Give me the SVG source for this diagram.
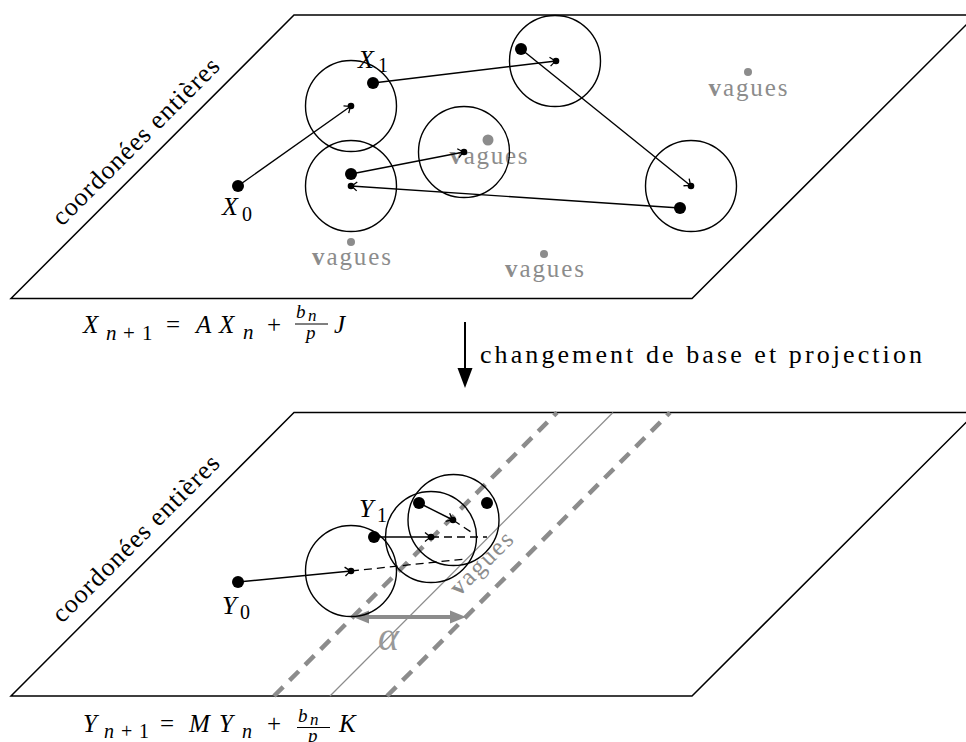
<svg xmlns="http://www.w3.org/2000/svg" width="966" height="742" viewBox="0 0 966 742">
<style>
.plane{fill:none;stroke:#000;stroke-width:1.5}
.circ{fill:none;stroke:#000;stroke-width:1.4}
.big{fill:#000}
.gdot{fill:#8c8c8c}
.edge{fill:none;stroke:#000;stroke-width:1.4;marker-end:url(#tip)}
.proj{fill:none;stroke:#000;stroke-width:1.3;stroke-dasharray:8 5}
.gthick{fill:none;stroke:#8c8c8c;stroke-width:4.5;stroke-dasharray:13 9}
.gthin{fill:none;stroke:#8c8c8c;stroke-width:1.2}
.lbl{font-family:"Liberation Serif","DejaVu Serif",serif;font-size:26px;fill:#000}
.gray{font-family:"Liberation Serif","DejaVu Serif",serif;font-size:25px;fill:#8c8c8c}
.math{font-family:"Liberation Serif","DejaVu Serif",serif;font-style:italic;fill:#000}
.rm{font-style:normal}
.b{font-weight:bold}
</style>
<defs>
<marker id="tip" markerUnits="userSpaceOnUse" markerWidth="14" markerHeight="14" viewBox="-8 -7 10 14" refX="0" refY="0" orient="auto">
<path d="M-6,-4.5 Q-2,-1 0,0 Q-2,1 -6,4.5" fill="none" stroke="#000" stroke-width="1.3"/>
</marker>
</defs>

<!-- top panel -->
<g id="plane-top">
<polygon class="plane" points="294,15 976,15 692,298.5 11,298.5"/>
<text class="lbl" transform="translate(62,227) rotate(-45)" textLength="225" lengthAdjust="spacing">coordonées entières</text>
</g>
<g id="waves-top">
<circle class="gdot" cx="748" cy="72" r="4"/>
<text class="gray" x="748" y="96" text-anchor="middle" textLength="79" lengthAdjust="spacing"><tspan class="b">v</tspan>agues</text>
<circle class="gdot" cx="351" cy="242" r="4"/>
<text class="gray" x="351.5" y="265" text-anchor="middle" textLength="79" lengthAdjust="spacing"><tspan class="b">v</tspan>agues</text>
<circle class="gdot" cx="544" cy="254" r="4"/>
<text class="gray" x="544.5" y="277" text-anchor="middle" textLength="79" lengthAdjust="spacing"><tspan class="b">v</tspan>agues</text>
<circle class="gdot" cx="488" cy="140" r="5.5"/>
<text class="gray" x="488.5" y="164" text-anchor="middle" textLength="78" lengthAdjust="spacing"><tspan class="b">v</tspan>agues</text>
</g>
<g id="c1"><circle class="circ" cx="351" cy="106" r="45.5"/><circle class="big" cx="351" cy="106" r="3.3"/></g>
<g id="c2"><circle class="circ" cx="351" cy="186" r="45.5"/><circle class="big" cx="351" cy="186" r="3.3"/><circle class="big" cx="351" cy="174" r="6"/></g>
<g id="c3"><circle class="circ" cx="464" cy="152" r="45.5"/><circle class="big" cx="464" cy="152" r="3.3"/></g>
<g id="c4"><circle class="circ" cx="555" cy="61" r="45.5"/><circle class="big" cx="556" cy="61" r="3.3"/><circle class="big" cx="521" cy="49" r="6"/></g>
<g id="c5"><circle class="circ" cx="691" cy="186" r="45.5"/><circle class="big" cx="691" cy="186" r="3.3"/><circle class="big" cx="680" cy="208" r="6"/></g>
<g id="X0"><circle class="big" cx="238" cy="186" r="6"/>
<text class="math" x="222" y="215" font-size="26">X</text><text class="math rm" x="242" y="221" font-size="20">0</text></g>
<g id="X1"><circle class="big" cx="373" cy="83" r="6"/>
<text class="math" x="358" y="68" font-size="26">X</text><text class="math rm" x="378" y="72" font-size="20">1</text></g>

<g id="formula-top">
<text class="math" font-size="25"><tspan x="83" y="333">X</tspan><tspan x="106" y="340" font-size="21">n</tspan><tspan class="rm" x="123" y="340" font-size="21">+</tspan><tspan class="rm" x="142" y="340" font-size="21">1</tspan><tspan class="rm" x="166" y="333">=</tspan><tspan x="196" y="333">A</tspan><tspan x="219" y="333">X</tspan><tspan x="243" y="339" font-size="21">n</tspan><tspan class="rm" x="267" y="333">+</tspan><tspan x="296" y="318" font-size="19">b</tspan><tspan x="308" y="321" font-size="17">n</tspan></text>
<text class="math" x="306" y="339" font-size="19">p</text>
<text class="math" x="334" y="333" font-size="25">J</text>
<line x1="295" y1="324" x2="328" y2="324" stroke="#000" stroke-width="1"/>
</g>

<g id="change">
<line x1="465" y1="322" x2="465" y2="372" stroke="#000" stroke-width="2"/>
<polygon points="457.5,368 472.5,368 465,388" fill="#000"/>
<text class="lbl" x="480" y="363" font-size="30" textLength="442" lengthAdjust="spacing">changement de base et projection</text>
</g>

<!-- bottom panel -->
<g id="plane-bottom">
<polygon class="plane" points="294,412.5 976,412.5 692,696 11,696"/>
<text class="lbl" transform="translate(62,624) rotate(-45)" textLength="225" lengthAdjust="spacing">coordonées entières</text>
</g>
<g id="waves-bottom">
<line class="gthick" x1="274" y1="696" x2="557" y2="412.5"/>
<line class="gthin" x1="330" y1="696" x2="613" y2="412.5"/>
<line class="gthick" x1="387" y1="696" x2="670" y2="412.5"/>
<text class="gray" transform="translate(487,569) rotate(-45)" text-anchor="middle" textLength="79" lengthAdjust="spacing"><tspan class="b">v</tspan>agues</text>
</g>
<g id="alpha">
<line x1="365" y1="617" x2="454" y2="617" stroke="#8c8c8c" stroke-width="4"/>
<polygon points="353,617 369,610.5 369,623.5" fill="#8c8c8c"/>
<polygon points="466,617 450,610.5 450,623.5" fill="#8c8c8c"/>
<text x="378" y="650" font-family="Liberation Serif, DejaVu Serif, serif" font-style="italic" font-size="40" fill="#999">α</text>
</g>
<g id="d1"><circle class="circ" cx="351" cy="571" r="45.5"/><circle class="big" cx="351" cy="571" r="3.3"/></g>
<g id="d2"><circle class="circ" cx="431" cy="537" r="45.5"/><circle class="big" cx="431" cy="537" r="3.3"/></g>
<g id="d3"><circle class="circ" cx="453.5" cy="520" r="45.5"/><circle class="big" cx="453" cy="520" r="3.3"/><circle class="big" cx="419" cy="503" r="6"/><circle class="big" cx="487" cy="503" r="6"/></g>
<g id="Y0"><circle class="big" cx="238" cy="582" r="6"/>
<text class="math" x="222" y="614" font-size="26">Y</text><text class="math rm" x="240" y="619" font-size="20">0</text></g>
<g id="Y1"><circle class="big" cx="374" cy="537" r="6"/>
<text class="math" x="359" y="517" font-size="26">Y</text><text class="math rm" x="377" y="522" font-size="20">1</text></g>

<g id="formula-bottom">
<text class="math" font-size="25"><tspan x="83" y="732">Y</tspan><tspan x="104" y="738" font-size="20">n</tspan><tspan class="rm" x="121" y="738" font-size="20">+</tspan><tspan class="rm" x="139" y="738" font-size="20">1</tspan><tspan class="rm" x="160" y="732">=</tspan><tspan x="189" y="732">M</tspan><tspan x="219" y="732">Y</tspan><tspan x="242" y="738" font-size="20">n</tspan><tspan class="rm" x="267" y="732">+</tspan><tspan x="298" y="722" font-size="19">b</tspan><tspan x="310" y="725" font-size="17">n</tspan></text>
<text class="math" x="308" y="742" font-size="19">p</text>
<text class="math" x="339" y="732" font-size="25">K</text>
<line x1="297" y1="727.5" x2="330" y2="727.5" stroke="#000" stroke-width="1"/>
</g>

<g id="connectors">
<line class="edge" x1="238" y1="186" x2="351" y2="106"/>
<line class="edge" x1="373" y1="83" x2="556" y2="61"/>
<line class="edge" x1="521" y1="49" x2="691" y2="186"/>
<line class="edge" x1="680" y1="208" x2="351" y2="186"/>
<line class="edge" x1="351" y1="174" x2="464" y2="152"/>
<line class="edge" x1="238" y1="582" x2="351" y2="571"/>
<line class="edge" x1="374" y1="537" x2="431" y2="537"/>
<line class="edge" x1="419" y1="503" x2="453" y2="520"/>
<line class="proj" x1="351" y1="571" x2="465" y2="559"/>
<line class="proj" x1="431" y1="537" x2="487" y2="537"/>
<line class="proj" x1="453" y1="520" x2="474" y2="534"/>
</g>
</svg>
